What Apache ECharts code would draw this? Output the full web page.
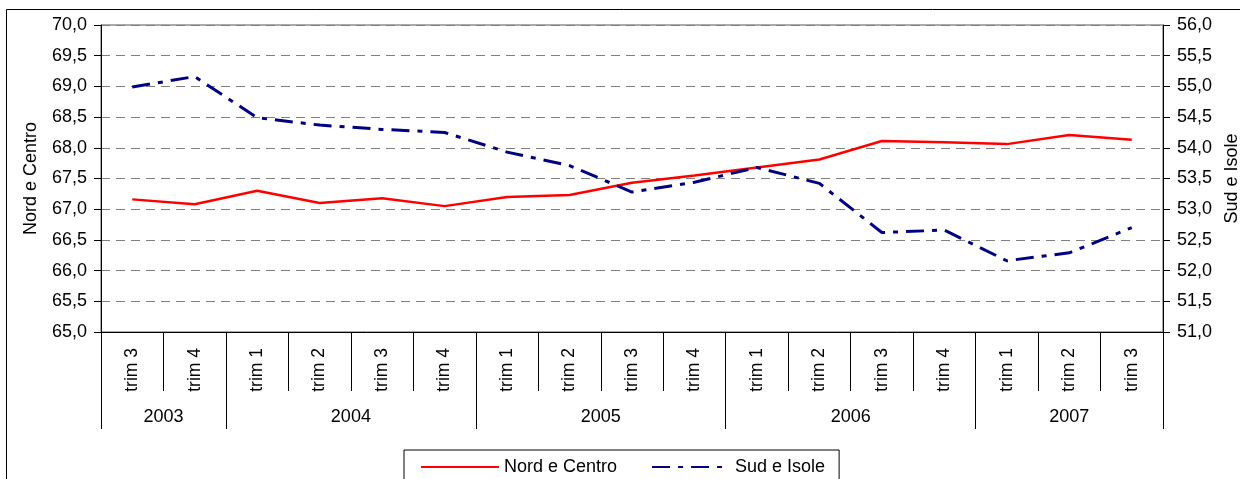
<!DOCTYPE html>
<html>
<head>
<meta charset="utf-8">
<script src="https://cdn.jsdelivr.net/npm/echarts@6/dist/echarts.min.js"></script>
<style>
  html, body { margin: 0; padding: 0; background: #fff; }
  #chart { width: 1240px; height: 479px; }
</style>
</head>
<body>
<div id="chart"></div>
<script>
// ---- Data ----
const quarters = ['trim 3','trim 4','trim 1','trim 2','trim 3','trim 4','trim 1','trim 2','trim 3','trim 4','trim 1','trim 2','trim 3','trim 4','trim 1','trim 2','trim 3'];
const yearOfQuarter = ['2003','2003','2004','2004','2004','2004','2005','2005','2005','2005','2006','2006','2006','2006','2007','2007','2007'];
const nordCentro = [67.16, 67.08, 67.30, 67.10, 67.18, 67.05, 67.20, 67.23, 67.43, 67.55, 67.68, 67.81, 68.11, 68.09, 68.06, 68.21, 68.13];
const sudIsole   = [54.99, 55.16, 54.49, 54.37, 54.30, 54.25, 53.93, 53.71, 53.28, 53.44, 53.68, 53.42, 52.62, 52.66, 52.16, 52.29, 52.70];
const seriesNames = ['Nord e Centro', 'Sud e Isole'];
const leftTicks = [65, 70, 0.5];
const rightTicks = [51, 56, 0.5];

// ---- derive year groups ----
const groupBounds = [0];
const groupLabels = [];
const groupCenters = [];
for (let i = 1; i <= yearOfQuarter.length; i++) {
  if (i === yearOfQuarter.length || yearOfQuarter[i] !== yearOfQuarter[i - 1]) {
    const start = groupBounds[groupBounds.length - 1];
    groupCenters.push((start + i) / 2);
    groupLabels.push(yearOfQuarter[i - 1]);
    groupBounds.push(i);
  }
}

const FONT = '"Liberation Sans", Arial, sans-serif';
const fmt = v => v.toFixed(1).replace('.', ',');

const chart = echarts.init(document.getElementById('chart'), null, { renderer: 'canvas' });
chart.setOption({
  animation: false,
  backgroundColor: '#fff',
  textStyle: { fontFamily: FONT, color: '#000' },
  graphic: [{
    type: 'rect', silent: true, z: -10,
    shape: { x: 6.5, y: 9.5, width: 1300, height: 600 },
    style: { fill: 'none', stroke: '#000', lineWidth: 1 }
  }],
  grid: {
    left: 101, right: 77, top: 25, bottom: 147,
    containLabel: false, outerBoundsMode: 'none',
    show: true, borderColor: '#555', borderWidth: 1, backgroundColor: 'transparent'
  },
  legend: {
    left: 404, top: 450,
    padding: [8, 14, 14, 16],
    borderColor: '#000', borderWidth: 1,
    itemWidth: 78, itemHeight: 14, itemGap: 34,
    itemStyle: { opacity: 0 },
    textStyle: { fontFamily: FONT, fontSize: 18, color: '#000' },
    data: seriesNames
  },
  xAxis: [{
    type: 'category',
    data: quarters,
    boundaryGap: true,
    position: 'bottom',
    axisLine: { show: true, lineStyle: { color: '#000', width: 1 } },
    axisTick: { show: true, interval: 0, length: 59, lineStyle: { color: '#000' } },
    axisLabel: { interval: 0, rotate: 90, margin: 16, fontSize: 17.5, fontFamily: FONT, color: '#000' },
    splitLine: { show: false }
  }, {
    type: 'value',
    min: 0, max: quarters.length,
    position: 'bottom',
    axisLine: { show: false },
    axisTick: { show: true, length: 97, customValues: groupBounds, lineStyle: { color: '#000' } },
    axisLabel: {
      show: true, margin: 76, fontSize: 18, fontFamily: FONT, color: '#000',
      customValues: groupCenters,
      formatter: v => { const k = groupCenters.indexOf(v); return k >= 0 ? groupLabels[k] : ''; }
    },
    splitLine: { show: false }
  }],
  yAxis: [{
    type: 'value',
    min: leftTicks[0], max: leftTicks[1], interval: leftTicks[2],
    position: 'left',
    name: seriesNames[0], nameLocation: 'middle', nameGap: 61,
    nameTextStyle: { fontFamily: FONT, fontSize: 18, color: '#000' },
    axisLine: { show: true, lineStyle: { color: '#000' } },
    axisTick: { show: true, length: 7, lineStyle: { color: '#000' } },
    axisLabel: { margin: 14, fontSize: 18, fontFamily: FONT, color: '#000', formatter: fmt },
    splitLine: { show: true, lineStyle: { color: '#808080', type: [9, 6], width: 1 } }
  }, {
    type: 'value',
    min: rightTicks[0], max: rightTicks[1], interval: rightTicks[2],
    position: 'right',
    name: seriesNames[1], nameLocation: 'middle', nameGap: 59,
    nameTextStyle: { fontFamily: FONT, fontSize: 18, color: '#000' },
    axisLine: { show: true, lineStyle: { color: '#000' } },
    axisTick: { show: true, length: 7, lineStyle: { color: '#000' } },
    axisLabel: { margin: 14, fontSize: 18, fontFamily: FONT, color: '#000', formatter: fmt },
    splitLine: { show: false }
  }],
  series: [{
    name: seriesNames[0],
    type: 'line',
    xAxisIndex: 0, yAxisIndex: 0,
    data: nordCentro,
    symbol: 'none',
    itemStyle: { color: '#ff0000' },
    lineStyle: { color: '#ff0000', width: 2.5, type: 'solid' }
  }, {
    name: seriesNames[1],
    type: 'line',
    xAxisIndex: 0, yAxisIndex: 1,
    data: sudIsole,
    symbol: 'none',
    itemStyle: { color: '#000080' },
    lineStyle: { color: '#000080', width: 3, type: [18, 8, 5, 8] }
  }]
});
</script>
</body>
</html>
